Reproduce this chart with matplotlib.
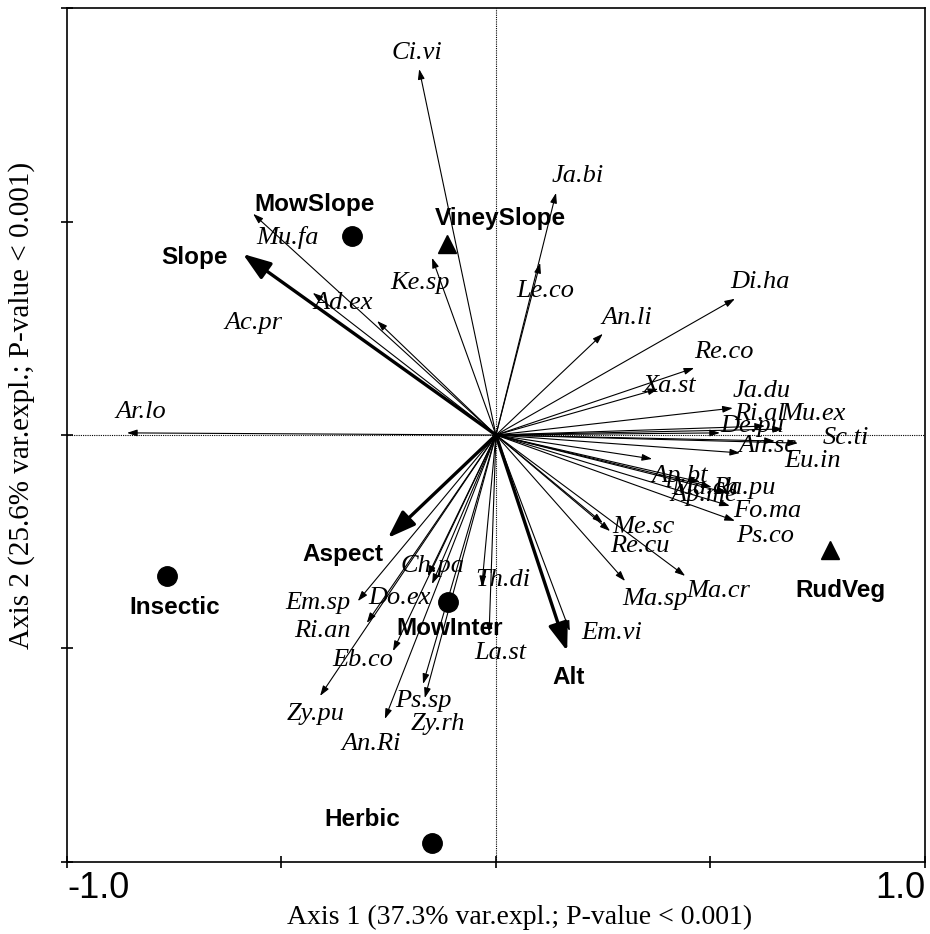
import matplotlib
matplotlib.use("Agg")
import matplotlib.pyplot as plt

# Species scores (axis 1, axis 2)
species = ["Ci.vi", "Ja.bi", "Le.co", "An.li", "Di.ha", "Re.co", "Xa.st", "Ja.du",
           "Ri.al", "Mu.ex", "De.pu", "Sc.ti", "Eu.in", "An.sc", "Ap.bt", "Ma.ch",
           "Ap.me", "Ra.pu", "Fo.ma", "Ps.co", "Re.cu", "Me.sc", "Ma.sp", "Ma.cr",
           "Em.vi", "Th.di", "La.st", "Ch.pa", "Do.ex", "Em.sp", "Ri.an", "Eb.co",
           "Zy.pu", "An.Ri", "Ps.sp", "Zy.rh", "Ar.lo", "Ac.pr", "Ad.ex", "Mu.fa",
           "Ke.sp"]
sp_x = [-0.179, 0.140, 0.103, 0.249, 0.557, 0.462, 0.378, 0.552,
        0.627, 0.669, 0.522, 0.704, 0.650, 0.569, 0.364, 0.476,
        0.503, 0.541, 0.545, 0.557, 0.249, 0.266, 0.301, 0.441,
        0.172, -0.033, -0.016, -0.149, -0.159, -0.322, -0.301, -0.240,
        -0.410, -0.259, -0.170, -0.166, -0.860, -0.427, -0.277, -0.566,
        -0.149]
sp_y = [0.857, 0.567, 0.403, 0.237, 0.319, 0.157, 0.108, 0.063,
        0.021, 0.014, 0.005, -0.019, -0.014, -0.042, -0.056, -0.110,
        -0.122, -0.136, -0.166, -0.201, -0.206, -0.225, -0.342, -0.330,
        -0.459, -0.354, -0.464, -0.349, -0.330, -0.389, -0.440, -0.506,
        -0.611, -0.665, -0.583, -0.616, 0.005, 0.333, 0.267, 0.518,
        0.415]

# Quantitative environmental variables
env_names = ["Slope", "Aspect", "Alt"]
env_x = [-0.590, -0.252, 0.166]
env_y = [0.424, -0.241, -0.506]

# Centroids of nominal variables
cent_names = ["MowSlope", "VineySlope", "Insectic", "MowInter", "Herbic", "RudVeg"]
cent_x = [-0.336, -0.114, -0.767, -0.112, -0.149, 0.779]
cent_y = [0.466, 0.447, -0.330, -0.391, -0.955, -0.270]
cent_kind = ["o", "^", "o", "o", "o", "^"]

# Label offsets in pixels (right, up) from each point
sp_off = [(-2, 16), (22, 17), (5, -28), (24, 16), (25, 17), (30, 16), (12, 3), (29, 17),
          (-5, 12), (30, 15), (32, 7), (48, 5), (38, -20), (27, 7), (28, -17), (5, -6),
          (-8, -8), (16, 5), (37, -5), (30, -15), (37, -23), (33, 4), (30, -18), (33, -15),
          (42, -2), (21, 6), (11, -20), (0, 18), (-28, -22), (-40, -2), (-44, -8), (-30, -9),
          (-4, -18), (-14, -25), (0, -17), (13, -26), (14, 21), (-59, -30), (-34, 18), (34, -24),
          (-12, -25)]
env_off = [(-48, -4), (-45, -17), (1, -26)]
cent_off = [(-37, 32), (53, 26), (8, -32), (2, -27), (-70, 23), (10, -40)]

PX2PT = 72 / 100

fig = plt.figure(figsize=(9.3, 9.34), dpi=100)
ax = fig.add_axes([0.072, 0.0771, 0.9226, 0.9143])
ax.set_xlim(-1, 1)
ax.set_ylim(-1, 1)

ax.axhline(0, color="black", lw=0.8, ls=(0, (1, 1)), zorder=1)
ax.axvline(0, color="black", lw=0.8, ls=(0, (1, 1)), zorder=1)

serif = ["Liberation Serif", "DejaVu Serif"]
sans = ["Liberation Sans", "DejaVu Sans"]

for name, x, y, (dx, dy) in zip(species, sp_x, sp_y, sp_off):
    ax.annotate("", xy=(x, y), xytext=(0, 0),
                arrowprops=dict(arrowstyle="-|>,head_length=0.6,head_width=0.2",
                                color="black", lw=0.8, shrinkA=0, shrinkB=0),
                zorder=3)
    ax.annotate(name, xy=(x, y), xytext=(dx * PX2PT, dy * PX2PT),
                textcoords="offset points", ha="center", va="center",
                fontsize=19, fontstyle="italic", family=serif, zorder=4)

for name, x, y, (dx, dy) in zip(env_names, env_x, env_y, env_off):
    ax.annotate("", xy=(x, y), xytext=(0, 0),
                arrowprops=dict(arrowstyle="-|>,head_length=1.7,head_width=0.6",
                                color="black", lw=2.4, shrinkA=0, shrinkB=0),
                zorder=5)
    ax.annotate(name, xy=(x, y), xytext=(dx * PX2PT, dy * PX2PT),
                textcoords="offset points", ha="center", va="center",
                fontsize=17.5, fontweight="bold", family=sans, zorder=6)

for name, x, y, m, (dx, dy) in zip(cent_names, cent_x, cent_y, cent_kind, cent_off):
    ax.plot(x, y, marker=m, color="black", markersize=14 if m == "o" else 13,
            ls="none", zorder=5)
    ax.annotate(name, xy=(x, y), xytext=(dx * PX2PT, dy * PX2PT),
                textcoords="offset points", ha="center", va="center",
                fontsize=17.5, fontweight="bold", family=sans, zorder=6)

for s in ax.spines.values():
    s.set_linewidth(1.2)

ax.set_xticks([-1, -0.5, 0, 0.5, 1])
ax.set_yticks([-1, -0.5, 0, 0.5, 1])
ax.set_xticklabels(["", "", "", "", ""])
ax.set_yticklabels([])
ax.tick_params(direction="inout", length=9, width=1.2)

ax.text(0, -0.011, "-1.0", transform=ax.transAxes, ha="left", va="top",
        fontsize=26, family=sans)
ax.text(1, -0.011, "1.0", transform=ax.transAxes, ha="right", va="top",
        fontsize=26, family=sans)

ax.set_xlabel("Axis 1 (37.3% var.expl.; P-value < 0.001)", fontsize=20,
              family=serif, va="center")
ax.xaxis.set_label_coords(0.527, -0.0644)
ax.set_ylabel("Axis 2 (25.6% var.expl.; P-value < 0.001)", fontsize=21,
              family=serif, va="center")
ax.yaxis.set_label_coords(-0.0524, 0.535)

fig.savefig("out.png", dpi=100)
